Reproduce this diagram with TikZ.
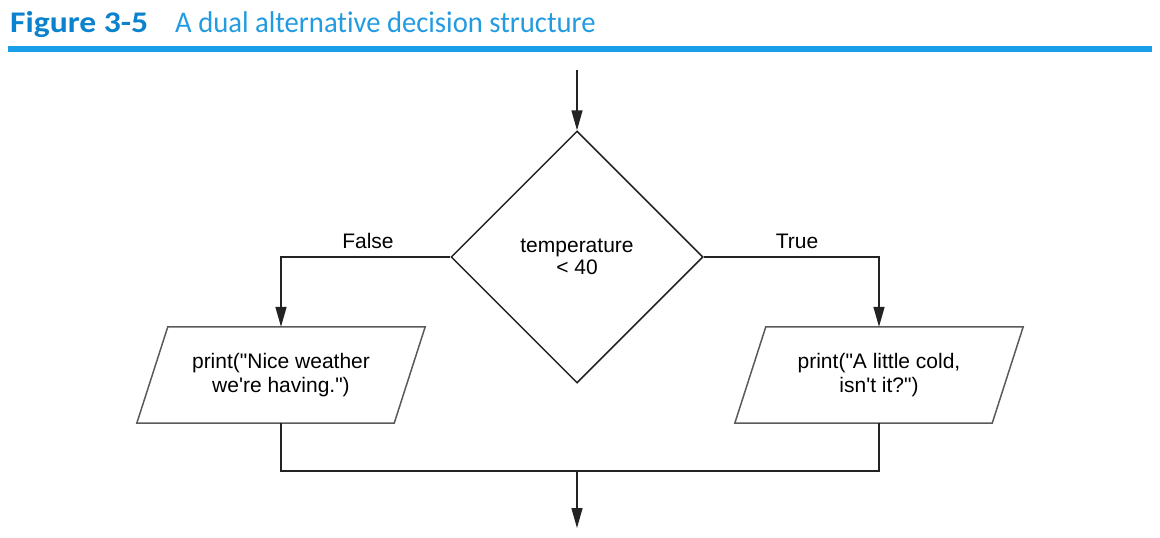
\documentclass[tikz,border=0pt]{standalone}
\usepackage{fontspec}
\setmainfont{Liberation Sans}[Ligatures=TeXOff]
\newfontfamily\titlefont{Carlito}[Ligatures=NoCommon]
\usetikzlibrary{shapes.geometric,arrows.meta}
\definecolor{titledark}{RGB}{10,130,205}
\definecolor{titlelight}{RGB}{35,155,225}
\definecolor{rulecol}{RGB}{25,158,232}
\definecolor{linecol}{RGB}{35,35,35}
\tikzset{
  arr/.style={draw=linecol,line width=1.5pt,-{Triangle[length=20pt,width=11pt]}},
  conn/.style={draw=linecol,line width=1.5pt},
  decbox/.style={diamond,draw=linecol,line width=1.5pt,minimum width=252pt,minimum height=252pt,inner sep=0pt,align=center,font=\fontsize{21}{23}\selectfont},
  iobox/.style={rectangle,minimum width=257pt,minimum height=96pt,inner sep=0pt,align=center,font=\fontsize{21}{24}\selectfont},
  lbl/.style={font=\fontsize{21}{23}\selectfont,inner sep=0pt},
}
\begin{document}
\begin{tikzpicture}[x=1pt,y=-1pt]
\useasboundingbox (0,0) rectangle (1160,538);
\node[anchor=base west,inner sep=0pt,font=\titlefont\fontsize{30}{30}\selectfont] (title) at (10,32)
  {\textcolor{titledark}{\scalebox{1.12}[1]{\textbf{Figure 3-5}}}};
\node[anchor=base west,inner sep=0pt,font=\titlefont\fontsize{30}{30}\selectfont] (subtitle) at (175,32)
  {\textcolor{titlelight}{\scalebox{0.955}[1]{A dual alternative decision structure}}};
\fill[rulecol] (8,46) rectangle (1152,52);
\node[decbox] (dec) at (577,257) {temperature\\[-1pt]< 40};
\node[iobox] (left) at (281,375) {print("Nice weather\\we're having.")};
\node[iobox] (right) at (879,375) {print("A little cold,\\isn't it?")};
\foreach \n in {left,right}{
  \draw[draw=linecol!75,line width=1.5pt,line join=miter]
    ([xshift=15.5pt]\n.north west) -- ([xshift=15.5pt]\n.north east) --
    ([xshift=-15.5pt]\n.south east) -- ([xshift=-15.5pt]\n.south west) -- cycle;
}
\coordinate (start) at (577,70);
\coordinate (join) at (577,471);
\coordinate (end) at (577,528);
\draw[arr] (start) -- (dec.north);
\draw[arr] (dec.west) -| (left.north);
\draw[arr] (dec.east) -| (right.north);
\draw[conn] (left.south) |- (join) -| (right.south);
\draw[arr] (join) -- (end);
\node[lbl] (f) at (368,241) {False};
\node[lbl] (t) at (797,241) {True};
\end{tikzpicture}
\end{document}
